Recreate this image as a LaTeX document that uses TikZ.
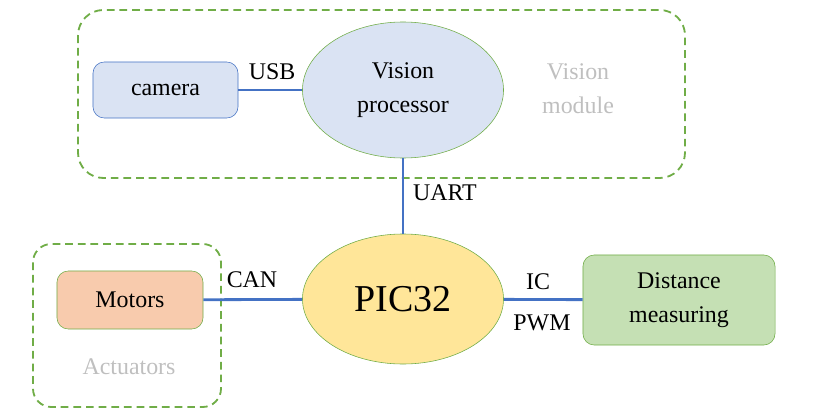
\documentclass[tikz,border=0pt]{standalone}
\usepackage{fontspec}
\setmainfont{LiberationSerif}[Extension=.ttf,UprightFont=*-Regular,BoldFont=*-Bold]
\newfontfamily\labelfont{LiberationSerif}[Extension=.ttf,UprightFont=*-Regular]
\usetikzlibrary{shapes.geometric}
\definecolor{boxblue}{HTML}{DAE3F3}
\definecolor{lineblue}{HTML}{4472C4}
\definecolor{frame green}{HTML}{70AD47}
\definecolor{chipyellow}{HTML}{FFE699}
\definecolor{motororange}{HTML}{F8CBAD}
\definecolor{sensorgreen}{HTML}{C5E0B4}
\definecolor{faded}{HTML}{BFBFBF}
\begin{document}
\begin{tikzpicture}[x=0.025cm, y=-0.025cm,
  part node/.style={rectangle,rounded corners=8pt,draw=frame green,align=center,inner sep=0pt},
  proc node/.style={ellipse,draw=frame green,align=center,inner sep=0pt},
  bus label/.style={inner sep=0pt},
  module box/.style={draw=frame green,dashed,dash pattern=on 5.5pt off 3.5pt,line width=1.3pt}]
\useasboundingbox (0,0) rectangle (823,420);
%dashed module frames
\draw[module box,rounded corners=18pt] (78,10) rectangle (685,178);
\draw[module box,rounded corners=13pt] (33,244) rectangle (221,407);
\begin{scope}[every node/.style={font=\labelfont\fontsize{17}{24}\selectfont}]
\node[part node,draw=lineblue,fill=boxblue,minimum width=3.625cm,minimum height=1.4cm] (camera) at (165.5,90) {camera};
\node[proc node,fill=boxblue,minimum width=5.025cm,minimum height=3.4cm] (vision) at (403,90) {Vision\\processor};
\node[proc node,fill=chipyellow,minimum width=5.025cm,minimum height=3.25cm,font=\labelfont\fontsize{27}{30}\selectfont] (pic) at (403,299) {PIC32};
\node[part node,fill=motororange,minimum width=3.65cm,minimum height=1.45cm] (motors) at (130,300) {Motors};
\node[part node,fill=sensorgreen,minimum width=4.8cm,minimum height=2.25cm] (distance) at (679,300) {Distance\\measuring};
\node[align=center,text=faded] (visionmod) at (578,89) {Vision\\module};
\node[text=faded] (actuators) at (129,367) {Actuators};
\end{scope}
\begin{scope}[every node/.style={bus label,font=\labelfont\fontsize{17}{24}\selectfont}]
\node (usb) at (272,72) {USB};
\node (uart) at (445,193) {UART};
\node (can) at (252,280) {CAN};
\node (ic) at (538,282) {IC};
\node (pwm) at (542,323) {PWM};
\end{scope}
\begin{scope}[every edge/.style={draw=lineblue,line width=2pt}]
\draw (camera) edge node{} (vision);
\draw (vision) edge node{} (pic);
\draw (motors) edge node{} (pic);
\draw (pic) edge node{} (distance);
\end{scope}
\end{tikzpicture}
\end{document}
